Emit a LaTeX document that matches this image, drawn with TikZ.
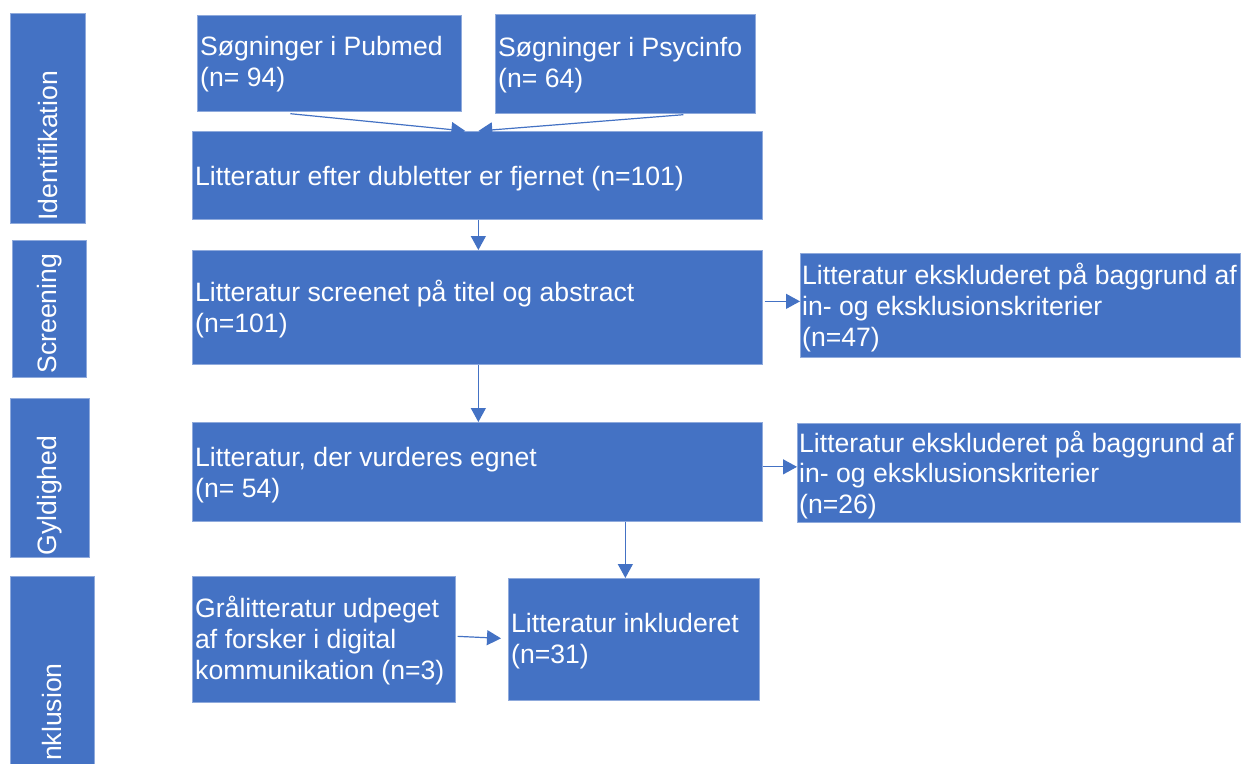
\documentclass[tikz,border=0pt]{standalone}
\usepackage{fontspec}
\setmainfont{Liberation Sans}
\usetikzlibrary{arrows.meta}
\definecolor{ofblue}{HTML}{4472C4}
\definecolor{ofedge}{HTML}{8FAADC}
\begin{document}
\begin{tikzpicture}[x=1pt,y=-1pt,
  box/.style={fill=ofblue, draw=ofedge, line width=0.7pt, anchor=north west, inner sep=0pt},
  txt/.style={text=white, font=\fontsize{26.6}{30.8}\selectfont, align=left, inner sep=0pt, anchor=west},
  phtxt/.style={text=white, font=\fontsize{26.6}{30.8}\selectfont, inner sep=0pt, rotate=90},
  arr/.style={draw=ofblue, line width=1.2pt, -{Triangle[length=14pt,width=15pt]}}]
\useasboundingbox (0,0) rectangle (1242,763);
\fill[white] (0,0) rectangle (1242,763);
\clip (0,0) rectangle (1242,763);

% phase boxes
\node[box, minimum width=75pt, minimum height=210pt] (p1) at (10,13) {};
\node[box, minimum width=74pt, minimum height=137pt] (p2) at (12,240) {};
\node[box, minimum width=79pt, minimum height=159pt] (p3) at (10,398) {};
\node[box, minimum width=84pt, minimum height=200pt] (p4) at (10,576) {};
\node[phtxt, anchor=west] (p1t) at ([yshift=3pt]p1.south) {Identifikation};
\node[phtxt, anchor=west] (p2t) at ([yshift=4pt]p2.south) {Screening};
\node[phtxt, anchor=west] (p3t) at ([yshift=2pt]p3.south) {Gyldighed};
\begin{scope}
\clip (0,0) rectangle (1242,759);
\node[phtxt, anchor=east] (p4t) at ([yshift=-87pt]p4.north) {Inklusion};
\end{scope}

% main boxes
\node[box, minimum width=264pt, minimum height=96pt] (pub) at (197,15) {};
\node[box, minimum width=260pt, minimum height=99pt] (psy) at (495,14) {};
\node[box, minimum width=570pt, minimum height=88pt] (dub) at (192,131) {};
\node[box, minimum width=570pt, minimum height=114pt] (scr) at (192,250) {};
\node[box, minimum width=440pt, minimum height=104pt] (ex1) at (800,253) {};
\node[box, minimum width=570pt, minimum height=99pt] (egn) at (192,422) {};
\node[box, minimum width=443pt, minimum height=99pt] (ex2) at (797,423) {};
\node[box, minimum width=263pt, minimum height=126pt] (gra) at (192,576) {};
\node[box, minimum width=251pt, minimum height=122pt] (ink) at (508,578) {};

\node[txt] (pubt) at ([xshift=3pt,yshift=-1pt]pub.west) {Søgninger i Pubmed\\(n= 94)};
\node[txt] (psyt) at ([xshift=3pt,yshift=-1pt]psy.west) {Søgninger i Psycinfo\\(n= 64)};
\node[txt] (dubt) at ([xshift=3pt,yshift=-3pt]dub.west) {Litteratur efter dubletter er fjernet (n=101)};
\node[txt] (scrt) at ([xshift=3pt,yshift=-2pt]scr.west) {Litteratur screenet på titel og abstract\\(n=101)};
\node[txt] (ex1t) at ([xshift=2pt,yshift=-2pt]ex1.west) {Litteratur ekskluderet på baggrund af\\in- og eksklusionskriterier\\(n=47)};
\node[txt] (egnt) at ([xshift=3pt,yshift=-3pt]egn.west) {Litteratur, der vurderes egnet\\(n= 54)};
\node[txt] (ex2t) at ([xshift=2pt,yshift=-2pt]ex2.west) {Litteratur ekskluderet på baggrund af\\in- og eksklusionskriterier\\(n=26)};
\node[txt] (grat) at ([xshift=3pt,yshift=-1pt]gra.west) {Grålitteratur udpeget\\af forsker i digital\\kommunikation (n=3)};
\node[txt] (inkt) at ([xshift=3pt,yshift=-2pt]ink.west) {Litteratur inkluderet\\(n=31)};

% connectors
\draw[arr] ([xshift=-39pt,yshift=-2pt]pub.south) -- ([xshift=-12pt]dub.north);
\draw[arr] ([xshift=58pt,yshift=-1pt]psy.south) -- ([xshift=1pt]dub.north);
\draw[arr] ([xshift=1pt]dub.south) -- ([xshift=1pt]scr.north);
\draw[arr] ([xshift=1pt]scr.south) -- ([xshift=1pt]egn.north);
\coordinate (c1) at ([xshift=2pt,yshift=6pt]scr.east);
\draw[arr] (c1) -- (c1 -| ex1.west);
\coordinate (c2) at ([yshift=5pt]egn.east);
\draw[arr] (c2) -- (c2 -| ex2.west);
\coordinate (c3) at ([xshift=148pt]egn.south);
\draw[arr] (c3) -- (c3 |- ink.north);
\draw[arr] ([xshift=2pt,yshift=3pt]gra.east) -- ([xshift=-7pt,yshift=1pt]ink.west);
\end{tikzpicture}
\end{document}
